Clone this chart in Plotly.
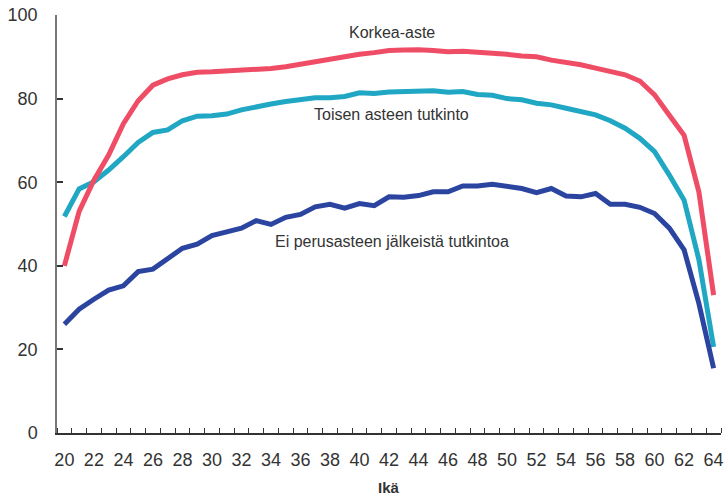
import plotly.graph_objects as go

ages = list(range(20, 65))

korkea = [40, 53, 60.5, 66.5, 74, 79.5, 83.2, 84.7, 85.7, 86.3,
          86.4, 86.6, 86.6, 87.1, 87.2, 87.6, 88.2, 88.9, 89.3, 90.2,
          90.6, 91.0, 91.5, 91.6, 91.7, 91.5, 91.2, 91.3, 91.1, 90.8,
          90.6, 90.2, 90.0, 89.2, 88.7, 88.1, 87.3, 86.6, 85.7, 84.2,
          80.9, 76.0, 71.2, 57.7, 33.0]

toisen = [51.8, 58.4, 60.1, 62.9, 66.1, 69.5, 71.9, 72.5, 74.7, 75.8,
          75.9, 76.3, 77.3, 78.1, 78.7, 79.3, 79.8, 80.2, 80.2, 80.5,
          81.4, 81.2, 81.6, 81.8, 81.8, 81.9, 81.5, 81.7, 81.0, 80.8,
          80.0, 79.7, 78.9, 78.5, 77.7, 76.9, 76.1, 74.7, 72.9, 70.5,
          67.3, 61.7, 55.7, 41.5, 20.6]

ei = [26.0, 29.6, 32.0, 34.2, 35.2, 38.6, 39.2, 41.6, 44.2, 45.2,
      47.2, 48.1, 49.0, 50.8, 49.9, 51.6, 52.3, 54.1, 54.7, 53.8,
      54.9, 54.4, 56.5, 56.4, 56.8, 57.7, 57.7, 59.1, 59.1, 59.5,
      58.9, 58.5, 57.5, 58.5, 56.7, 56.5, 57.3, 54.7, 54.7, 54.0,
      52.5, 49.0, 43.8, 31.0, 15.5]

labels = ["Korkea-aste", "Toisen asteen tutkinto", "Ei perusasteen jälkeistä tutkintoa"]
x_ticks = list(range(20, 65, 2))
y_ticks = [0, 20, 40, 60, 80, 100]

RED = "#EF4D66"
TEAL = "#20A7C3"
BLUE = "#2A44A0"
TXT = "#333333"
FONT = "Liberation Sans, Arial, sans-serif"

fig = go.Figure()
fig.add_trace(go.Scatter(x=ages, y=toisen, mode="lines", name=labels[1],
                         line=dict(color=TEAL, width=5)))
fig.add_trace(go.Scatter(x=ages, y=korkea, mode="lines", name=labels[0],
                         line=dict(color=RED, width=5)))
fig.add_trace(go.Scatter(x=ages, y=ei, mode="lines", name=labels[2],
                         line=dict(color=BLUE, width=5)))

ann_font = dict(family=FONT, size=16, color=TXT)
fig.add_annotation(x=42.2, y=95.7, text=labels[0], showarrow=False, font=ann_font)
fig.add_annotation(x=42.2, y=76.1, text=labels[1], showarrow=False, font=ann_font)
fig.add_annotation(x=42.2, y=45.8, text=labels[2], showarrow=False, font=ann_font)
fig.add_annotation(x=0.5, y=-0.13, xref="paper", yref="paper", text="<b>Ikä</b>",
                   showarrow=False, yanchor="middle",
                   font=dict(family=FONT, size=15, color=TXT))

fig.update_layout(
    width=728, height=496,
    margin=dict(l=57, r=7, t=15, b=63),
    paper_bgcolor="white", plot_bgcolor="white",
    showlegend=False,
    font=dict(family=FONT, color=TXT),
    xaxis=dict(
        range=[19.5, 64.5], tickmode="array", tickvals=x_ticks,
        ticktext=[str(v) for v in x_ticks],
        ticks="", showgrid=False, zeroline=False, automargin=False,
        showline=True, linecolor="#333333", linewidth=1.5,
        tickfont=dict(family=FONT, size=18, color=TXT),
        ticklabelstandoff=10,
        minor=dict(tickmode="array", tickvals=[a + 0.5 for a in range(19, 65)],
                   ticks="inside", ticklen=5, tickcolor="#333333", tickwidth=1,
                   showgrid=False),
    ),
    yaxis=dict(
        range=[0, 100], tickmode="array", tickvals=y_ticks,
        ticks="inside", ticklen=6, tickcolor="#333333", tickwidth=1.5,
        showgrid=False, zeroline=False, automargin=False,
        showline=True, linecolor="#777777", linewidth=1.5,
        tickfont=dict(family=FONT, size=18, color=TXT),
        ticklabelstandoff=14,
    ),
)

fig.write_html(
    "out.html",
    config={"displayModeBar": False},
    post_script="document.body.style.margin='0';document.body.style.overflow='hidden';",
)
